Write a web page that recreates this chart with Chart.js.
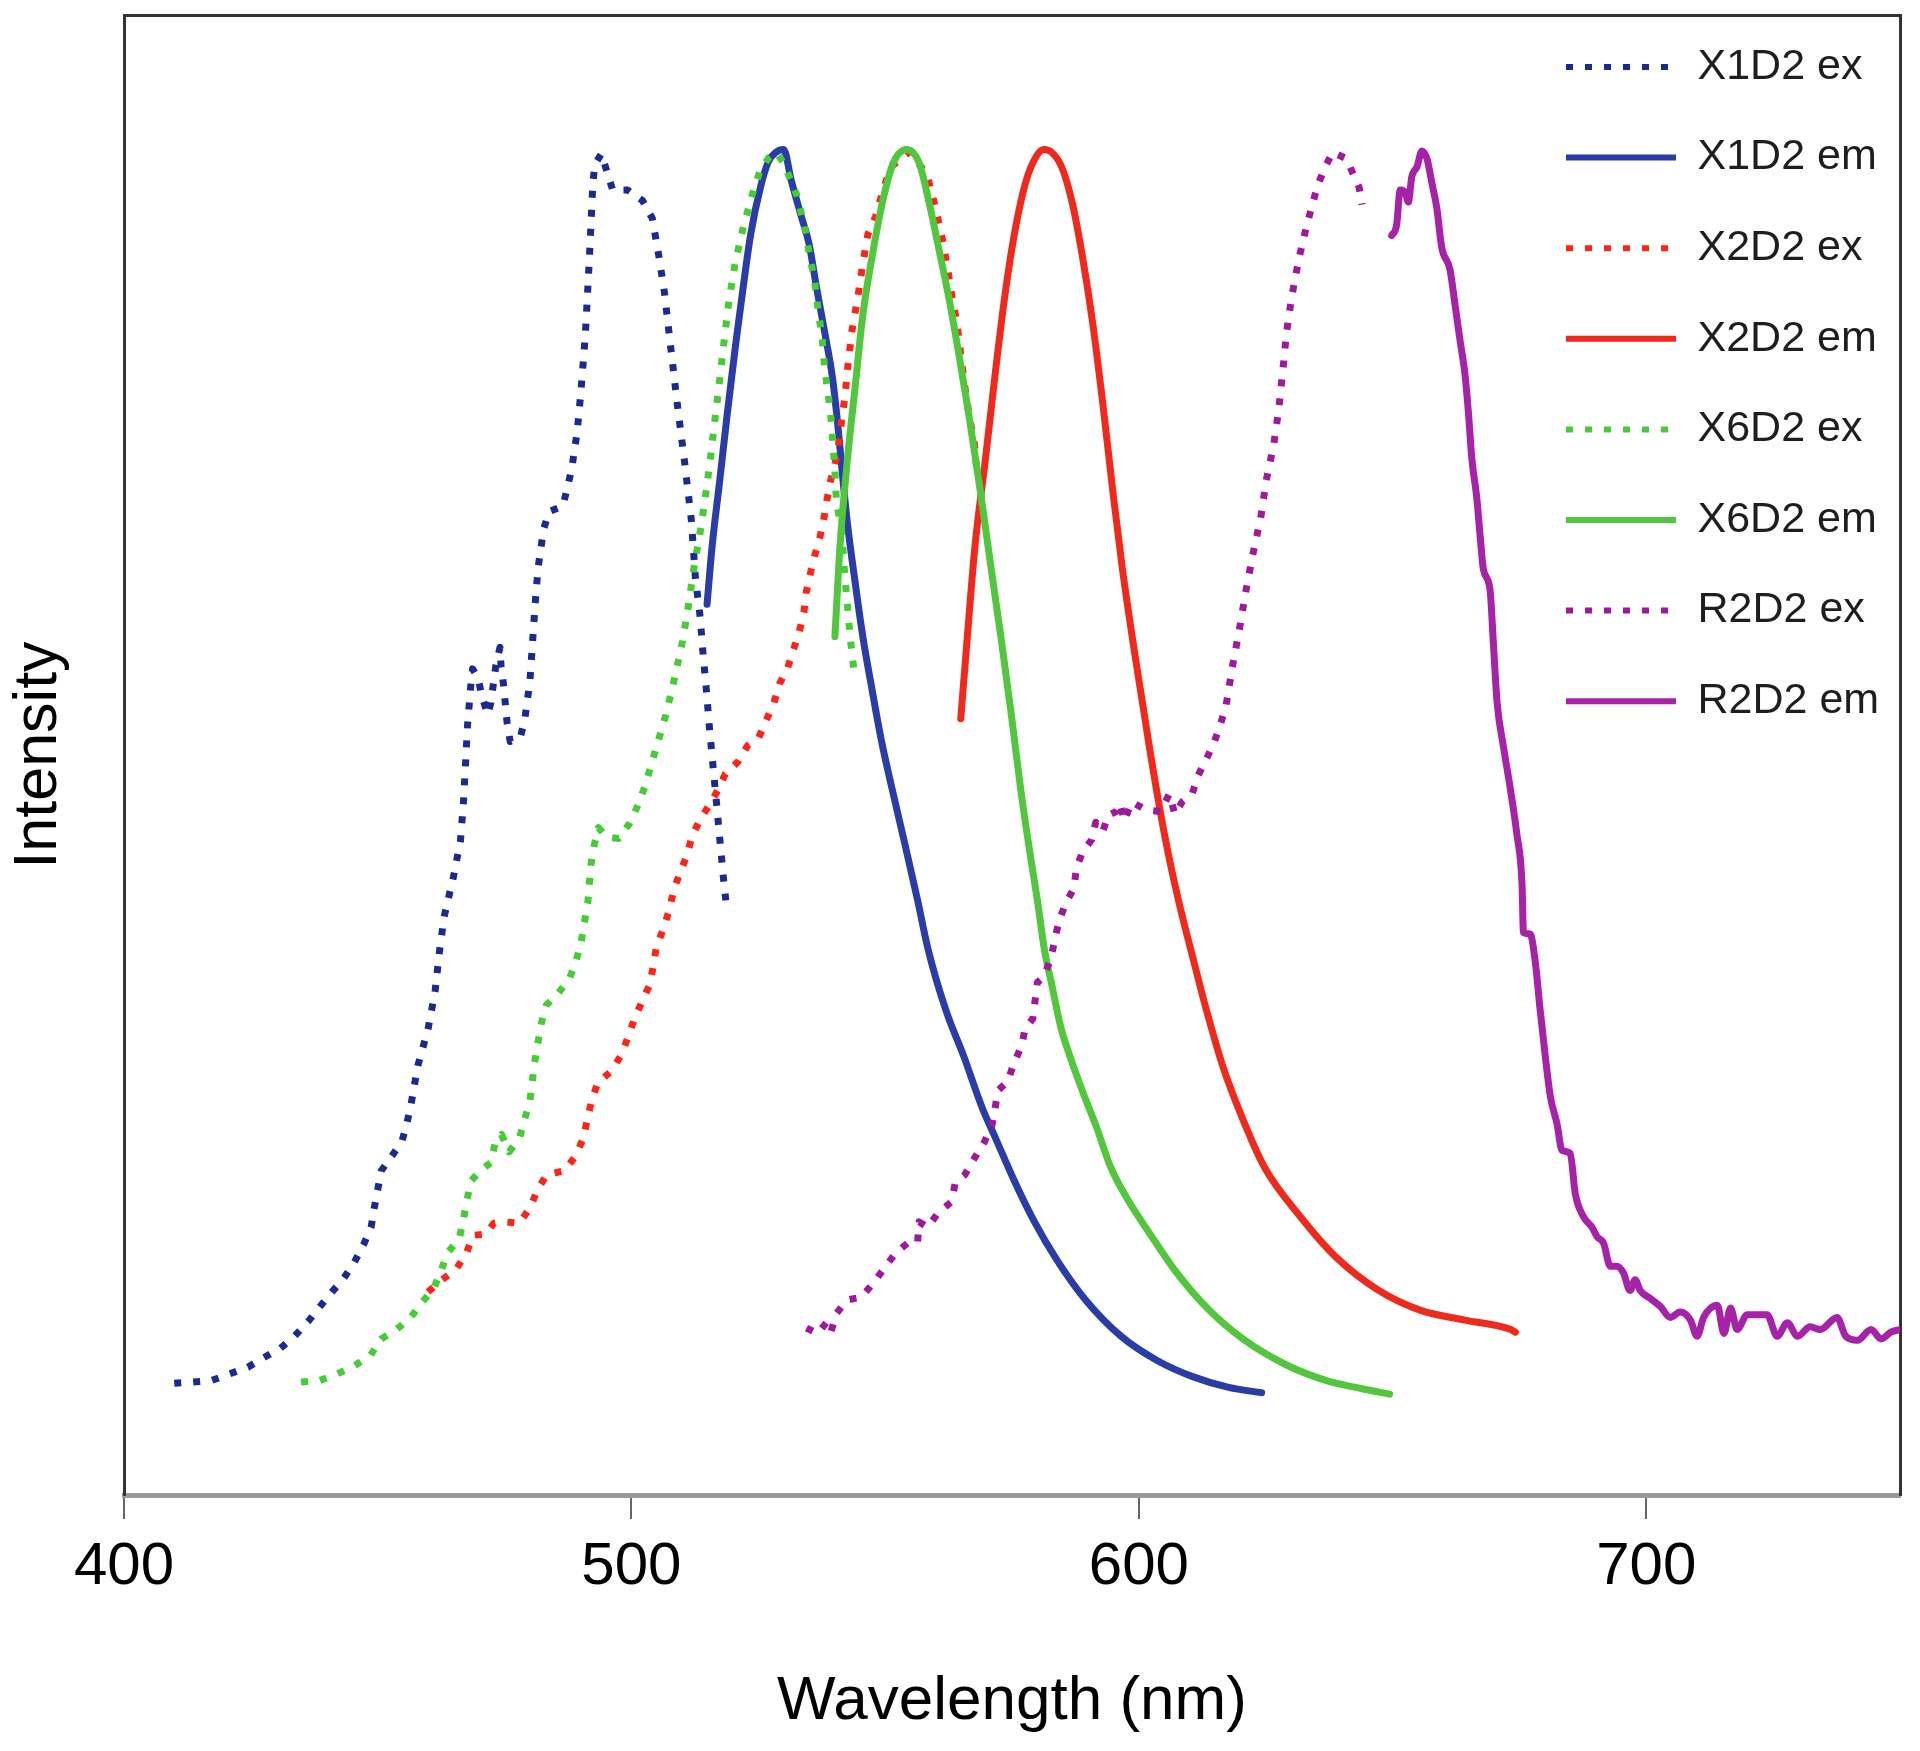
<!DOCTYPE html>
<html>
<head>
<meta charset="utf-8">
<script src="https://cdn.jsdelivr.net/npm/chart.js@4.4.1/dist/chart.umd.min.js"></script>
<style>
  html, body { margin: 0; padding: 0; background: #ffffff; }
  #wrap { width: 1920px; height: 1751px; position: relative; }
</style>
</head>
<body>
<div id="wrap"><canvas id="chart"></canvas></div>
<script>
// ---- data: [wavelength (nm), normalised intensity] ----
const seriesLabels = ['X1D2 ex', 'X1D2 em', 'X2D2 ex', 'X2D2 em', 'X6D2 ex', 'X6D2 em', 'R2D2 ex', 'R2D2 em'];
const xTickValues = [400, 500, 600, 700];

const x1d2Ex = [[409.9,0.083],[413.5,0.084],[417.2,0.085],[420.8,0.090],[424.4,0.095],[427.5,0.102],[430.8,0.109],[433.6,0.118],[436.3,0.129],[438.6,0.140],[441.0,0.151],[443.3,0.161],[445.4,0.173],[447.2,0.186],[448.7,0.199],[449.3,0.213],[450.0,0.227],[450.7,0.241],[452.8,0.252],[454.8,0.263],[455.8,0.277],[456.6,0.291],[457.9,0.319],[459.9,0.346],[461.3,0.374],[462.1,0.402],[463.1,0.430],[464.9,0.459],[466.3,0.486],[466.9,0.515],[467.3,0.543],[467.7,0.572],[468.3,0.600],[468.7,0.614],[469.8,0.607],[470.5,0.594],[471.7,0.580],[472.3,0.589],[473.3,0.617],[474.1,0.630],[474.3,0.616],[474.8,0.602],[475.5,0.574],[476.1,0.560],[478.1,0.563],[479.0,0.577],[480.0,0.605],[480.5,0.633],[481.0,0.661],[481.6,0.689],[482.7,0.718],[483.8,0.731],[486.5,0.735],[488.2,0.762],[489.3,0.790],[490.0,0.818],[490.9,0.861],[491.7,0.918],[492.4,0.975],[492.8,0.989],[494.1,0.997],[495.3,0.982],[496.3,0.970],[499.2,0.970],[502.2,0.962],[504.1,0.949],[505.4,0.921],[506.5,0.894],[507.8,0.851],[509.1,0.809],[510.5,0.767],[511.8,0.725],[512.6,0.682],[513.5,0.654],[514.1,0.626],[514.8,0.597],[515.4,0.569],[516.1,0.541],[516.8,0.513],[517.5,0.484],[518.2,0.456],[518.6,0.442]];

const x1d2Em = [[514.9,0.662],[515.9,0.705],[517.4,0.754],[518.9,0.804],[520.5,0.854],[522.0,0.897],[523.5,0.937],[525.5,0.973],[527.0,0.991],[528.5,0.998],[530.0,1.000],[531.5,0.977],[533.5,0.950],[535.0,0.930],[536.5,0.897],[538.1,0.864],[539.6,0.831],[540.6,0.798],[541.6,0.758],[542.6,0.721],[544.1,0.678],[545.6,0.638],[547.4,0.599],[549.3,0.560],[551.6,0.521],[554.0,0.482],[556.4,0.442],[558.5,0.405],[562.0,0.360],[565.5,0.326],[569.1,0.288],[571.9,0.264],[575.4,0.234],[579.3,0.204],[583.8,0.175],[589.5,0.145],[596.5,0.118],[603.6,0.100],[610.6,0.088],[617.7,0.080],[624.2,0.076]];

const x2d2Ex = [[459.9,0.151],[462.7,0.160],[465.5,0.168],[467.5,0.180],[468.8,0.193],[471.3,0.194],[472.9,0.202],[475.0,0.203],[477.9,0.202],[480.1,0.214],[481.5,0.227],[483.3,0.238],[486.8,0.241],[489.0,0.252],[490.5,0.265],[491.3,0.279],[492.1,0.292],[493.3,0.306],[496.0,0.315],[498.0,0.327],[499.3,0.340],[500.5,0.353],[502.1,0.367],[503.6,0.379],[504.3,0.393],[504.9,0.407],[506.2,0.420],[507.4,0.434],[508.3,0.449],[509.5,0.462],[510.9,0.475],[511.9,0.489],[513.5,0.502],[515.4,0.513],[517.2,0.525],[518.5,0.536],[521.0,0.545],[522.9,0.557],[525.1,0.563],[526.6,0.576],[528.1,0.589],[529.2,0.603],[530.8,0.615],[532.0,0.629],[533.1,0.642],[534.0,0.656],[534.4,0.670],[535.2,0.684],[536.1,0.698],[537.1,0.711],[537.9,0.725],[538.5,0.739],[539.2,0.753],[540.6,0.774],[541.4,0.798],[542.1,0.817],[542.6,0.837],[543.4,0.864],[544.6,0.890],[545.6,0.915],[546.6,0.937],[548.1,0.950],[549.6,0.970],[551.1,0.987],[554.7,0.998],[558.2,0.982],[559.9,0.957],[561.2,0.935],[562.2,0.914],[563.2,0.890],[564.2,0.870],[564.9,0.847],[565.7,0.824],[566.5,0.804],[567.6,0.781],[568.0,0.765]];

const x2d2Em = [[564.9,0.577],[566.2,0.638],[567.7,0.705],[569.8,0.771],[571.8,0.837],[573.8,0.897],[575.8,0.944],[577.8,0.977],[579.8,0.995],[581.3,1.000],[582.8,0.998],[584.8,0.987],[586.9,0.960],[588.9,0.920],[590.9,0.871],[592.9,0.811],[594.9,0.745],[596.7,0.690],[599.2,0.625],[602.2,0.553],[605.0,0.492],[607.8,0.442],[610.6,0.400],[613.2,0.362],[616.6,0.318],[620.3,0.281],[624.7,0.244],[631.8,0.207],[638.8,0.177],[647.3,0.152],[655.7,0.137],[664.2,0.130],[673.3,0.123],[674.2,0.121]];

const x6d2Ex = [[434.9,0.084],[438.5,0.085],[442.0,0.090],[445.4,0.096],[448.6,0.104],[450.7,0.116],[453.7,0.123],[456.5,0.132],[458.7,0.143],[461.1,0.154],[462.5,0.167],[463.8,0.180],[466.1,0.191],[466.9,0.205],[467.6,0.219],[468.3,0.233],[470.2,0.241],[472.3,0.247],[473.1,0.261],[474.4,0.268],[475.9,0.255],[478.0,0.266],[479.0,0.280],[480.0,0.293],[480.9,0.321],[482.2,0.350],[483.2,0.364],[485.6,0.373],[487.8,0.384],[489.1,0.397],[490.1,0.411],[490.7,0.425],[491.4,0.440],[492.0,0.468],[492.6,0.482],[493.5,0.496],[495.1,0.489],[497.5,0.488],[499.6,0.499],[501.2,0.512],[502.6,0.526],[504.7,0.553],[506.8,0.580],[508.5,0.607],[510.1,0.635],[511.3,0.663],[512.4,0.691],[513.7,0.719],[514.8,0.748],[515.7,0.775],[516.6,0.804],[517.5,0.832],[518.3,0.859],[519.2,0.887],[520.4,0.915],[521.9,0.940],[523.6,0.964],[525.4,0.985],[527.1,0.994],[528.5,0.998],[530.0,0.990],[532.5,0.967],[534.0,0.945],[535.0,0.924],[536.1,0.902],[536.8,0.881],[537.6,0.859],[538.1,0.837],[538.8,0.817],[539.4,0.798],[540.1,0.761],[540.4,0.738],[541.4,0.718],[541.9,0.691],[542.4,0.668],[543.1,0.638],[543.8,0.614]];

const x6d2Em = [[540.1,0.638],[541.1,0.705],[542.6,0.771],[544.1,0.824],[545.6,0.877],[547.6,0.924],[549.6,0.963],[551.6,0.990],[554.2,1.000],[556.7,0.990],[558.7,0.960],[560.7,0.924],[562.7,0.887],[564.7,0.844],[566.7,0.798],[568.8,0.745],[570.8,0.691],[572.8,0.638],[574.8,0.582],[576.8,0.522],[578.5,0.478],[580.0,0.442],[581.4,0.405],[582.8,0.380],[584.6,0.348],[586.7,0.323],[589.1,0.298],[591.6,0.274],[594.4,0.244],[597.9,0.219],[602.2,0.194],[607.5,0.165],[613.7,0.138],[620.5,0.116],[628.9,0.097],[637.0,0.085],[644.0,0.079],[649.4,0.075]];

const r2d2Ex = [[534.5,0.124],[536.7,0.120],[538.4,0.128],[539.3,0.121],[540.4,0.135],[542.5,0.145],[545.3,0.147],[547.8,0.158],[549.9,0.169],[552.1,0.180],[555.0,0.189],[556.4,0.188],[556.7,0.203],[558.4,0.199],[560.5,0.210],[563.1,0.218],[563.8,0.232],[565.7,0.238],[567.7,0.251],[569.5,0.262],[571.0,0.274],[572.3,0.301],[574.1,0.307],[575.4,0.321],[576.9,0.334],[577.6,0.347],[579.1,0.354],[580.0,0.381],[581.2,0.385],[582.6,0.398],[583.4,0.412],[584.2,0.426],[585.6,0.440],[587.2,0.451],[587.7,0.466],[588.9,0.478],[590.7,0.487],[591.5,0.500],[592.9,0.493],[593.9,0.505],[595.5,0.508],[596.3,0.514],[597.1,0.501],[598.6,0.515],[601.5,0.509],[604.3,0.508],[606.0,0.521],[607.1,0.506],[608.5,0.515],[610.5,0.521],[611.7,0.535],[613.3,0.547],[614.9,0.560],[616.1,0.573],[617.2,0.587],[618.4,0.615],[619.8,0.643],[621.0,0.670],[622.4,0.698],[624.0,0.726],[625.1,0.754],[626.6,0.781],[627.6,0.808],[628.4,0.837],[629.1,0.864],[630.1,0.890],[631.6,0.920],[633.1,0.944],[635.2,0.973],[636.7,0.987],[638.2,0.998],[641.0,0.993],[642.2,0.982],[643.4,0.972],[644.0,0.959]];

const r2d2Em = [[649.8,0.936],[650.8,0.944],[651.5,0.970],[652.5,0.968],[653.1,0.961],[653.8,0.980],[654.8,0.987],[655.8,0.999],[656.8,0.993],[657.7,0.976],[658.7,0.957],[659.7,0.927],[661.3,0.911],[662.3,0.885],[663.3,0.858],[664.3,0.832],[665.0,0.802],[665.6,0.771],[666.6,0.741],[667.3,0.711],[667.9,0.688],[669.2,0.673],[669.9,0.631],[670.6,0.589],[671.9,0.555],[673.2,0.525],[674.5,0.491],[675.5,0.455],[675.8,0.418],[677.1,0.417],[678.1,0.397],[679.1,0.360],[680.1,0.326],[681.1,0.296],[682.4,0.276],[683.4,0.256],[685.0,0.254],[686.0,0.224],[687.6,0.207],[689.3,0.199],[690.3,0.192],[691.6,0.187],[692.9,0.170],[694.2,0.170],[695.5,0.165],[696.8,0.152],[697.8,0.160],[698.8,0.152],[700.8,0.146],[702.8,0.140],[704.7,0.132],[706.7,0.136],[708.7,0.130],[710.0,0.118],[711.3,0.132],[714.0,0.141],[715.3,0.120],[716.6,0.139],[717.9,0.123],[719.9,0.134],[723.8,0.134],[725.8,0.118],[727.8,0.128],[729.8,0.118],[732.3,0.125],[734.3,0.123],[737.6,0.132],[739.3,0.118],[741.6,0.115],[744.3,0.123],[746.3,0.116],[748.2,0.121],[750.0,0.123]];

// ---- styling ----
const FONT = "'Liberation Sans', Arial, Helvetica, sans-serif";
Chart.defaults.font.family = FONT;
const seriesColors = ['#1b2a90', '#2a3ca6', '#ff2418', '#ee2a1c', '#46cc34', '#52c63c', '#a0189c', '#a622a8'];
const seriesDotted = [true, false, true, false, true, false, true, false];
const allSeries = [x1d2Ex, x1d2Em, x2d2Ex, x2d2Em, x6d2Ex, x6d2Em, r2d2Ex, r2d2Em];

const datasets = allSeries.map((s, i) => ({
  label: seriesLabels[i],
  data: s.map(([x, y]) => ({ x, y })),
  borderColor: seriesColors[i],
  backgroundColor: seriesColors[i],
  borderWidth: 7,
  borderDash: seriesDotted[i] ? [7, 12] : [],
  borderCapStyle: seriesDotted[i] ? 'butt' : 'round',
  borderJoinStyle: 'round',
  cubicInterpolationMode: seriesDotted[i] ? 'default' : 'monotone',
  pointRadius: 0,
  pointHoverRadius: 0,
  tension: seriesDotted[i] ? 0 : 0.4,
  fill: false,
  order: allSeries.length - i
}));

// Put the legend in the upper-right corner inside the plot frame
const placeLegend = {
  id: 'placeLegend',
  afterLayout(chart) {
    const lg = chart.legend;
    if (!lg) return;
    const pad = lg.options.labels.padding;
    const ca = chart.chartArea;
    lg.left = ca.right - 334 - pad;
    lg.right = lg.left + lg.width;
    lg.top = ca.top + 30.5 - pad;
    lg.bottom = ca.bottom;
  }
};

new Chart(document.getElementById('chart'), {
  type: 'line',
  data: { datasets },
  plugins: [placeLegend],
  options: {
    responsive: true,
    maintainAspectRatio: false,
    devicePixelRatio: 1,
    animation: false,
    events: [],
    layout: { padding: { left: 0, right: 0, top: 15, bottom: 0 } },
    plugins: {
      legend: {
        display: true,
        position: 'chartArea',
        align: 'start',
        labels: {
          usePointStyle: true,
          pointStyle: 'line',
          pointStyleWidth: 110,
          boxHeight: 10,
          padding: 47.6,
          color: '#1e1e1e',
          font: { family: FONT, size: 43 },
          sort: (a, b) => a.datasetIndex - b.datasetIndex,
          generateLabels(chart) {
            const items = Chart.defaults.plugins.legend.labels.generateLabels(chart);
            items.forEach(it => {
              const ds = chart.data.datasets[it.datasetIndex];
              it.lineDash = ds.borderDash;
              it.lineWidth = 6;
              it.lineCap = 'butt';
              it.strokeStyle = ds.borderColor;
              it.fillStyle = ds.borderColor;
            });
            return items;
          }
        }
      },
      tooltip: { enabled: false },
      title: { display: false }
    },
    scales: {
      x: {
        type: 'linear',
        position: 'bottom',
        min: 400,
        max: 750,
        afterFit(s) { s.height = 256; },
        afterBuildTicks(s) { s.ticks = xTickValues.map(v => ({ value: v })); },
        ticks: {
          font: { family: FONT, size: 60 },
          color: '#000',
          padding: 12,
          maxRotation: 0,
          autoSkip: false
        },
        grid: { drawOnChartArea: false, drawTicks: true, tickLength: 24, tickColor: '#666', tickWidth: 2, lineWidth: 2 },
        border: { display: true, color: '#9a9a9a', width: 5 },
        title: { display: true, text: 'Wavelength (nm)', color: '#000', font: { family: FONT, size: 62 }, padding: { top: 0, bottom: 12 } }
      },
      xTop: {
        type: 'linear',
        position: 'top',
        min: 400,
        max: 750,
        afterFit(s) { s.height = 0; },
        ticks: { display: false },
        grid: { display: false },
        border: { display: true, color: '#333', width: 3 }
      },
      y: {
        type: 'linear',
        position: 'left',
        min: 0,
        max: 1.1,
        afterFit(s) { s.width = 124; },
        ticks: { display: false },
        grid: { display: false },
        border: { display: true, color: '#333', width: 3 },
        title: { display: true, text: 'Intensity', color: '#000', font: { family: FONT, size: 61 }, padding: { top: 3, bottom: 0 } }
      },
      yRight: {
        type: 'linear',
        position: 'right',
        min: 0,
        max: 1.1,
        afterFit(s) { s.width = 20; },
        ticks: { display: false },
        grid: { display: false },
        border: { display: true, color: '#333', width: 3 }
      }
    }
  }
});
</script>
</body>
</html>
